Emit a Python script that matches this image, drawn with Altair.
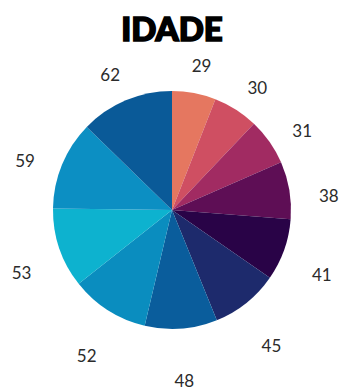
import altair as alt
import pandas as pd

idades = [29, 30, 31, 38, 41, 45, 48, 52, 53, 59, 62]
cores = ["#E57760", "#CF4F62", "#A12B62", "#5E0E55", "#290347", "#1D2A6C",
         "#0A5D9C", "#0A8DBF", "#0DB2CF", "#0C8FC3", "#0A5A98"]
titulo = "IDADE"

rotulos = [str(v) for v in idades]
df = pd.DataFrame({"idade": idades, "rotulo": rotulos, "ordem": list(range(len(idades)))})

base = alt.Chart(df).encode(
    theta=alt.Theta("idade:Q", stack=True),
    order=alt.Order("ordem:Q"),
    x=alt.value(172),
    y=alt.value(210),
)

pie = base.mark_arc(outerRadius=119).encode(
    color=alt.Color("rotulo:N", scale=alt.Scale(domain=rotulos, range=cores), legend=None, sort=None)
)

labels = base.mark_text(radius=159, dy=13, fontSize=17, font="Lato", color="#2b2b2b").encode(
    text="rotulo:N"
)

title = alt.Chart(pd.DataFrame({"t": [titulo]})).mark_text(
    fontSize=33, fontWeight=900, font="Lato", color="#000000", baseline="middle",
    stroke="#000000", strokeWidth=1.6
).encode(x=alt.value(172), y=alt.value(31), text="t:N")

chart = alt.layer(pie, labels, title).properties(
    width=341, height=391, autosize=alt.AutoSizeParams(type="none"), padding=0
).configure_view(stroke=None)

chart.save("out.html", embed_options={"renderer": "svg", "actions": False})
